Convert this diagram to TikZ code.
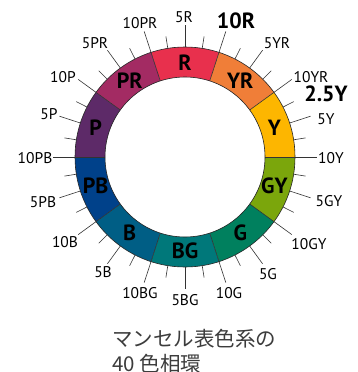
\documentclass[tikz,border=0pt]{standalone}
\usepackage{fontspec}
\setmainfont{PT Sans}
\newfontfamily\jpfont{Noto Sans CJK JP}
\usetikzlibrary{calc}
\definecolor{cR}{HTML}{E8304D}
\definecolor{cYR}{HTML}{F07E38}
\definecolor{cY}{HTML}{FDB600}
\definecolor{cGY}{HTML}{7BA60C}
\definecolor{cG}{HTML}{00805E}
\definecolor{cBG}{HTML}{00787A}
\definecolor{cB}{HTML}{005E85}
\definecolor{cPB}{HTML}{00418A}
\definecolor{cP}{HTML}{5D2A68}
\definecolor{cPR}{HTML}{A32B63}
\definecolor{jptext}{HTML}{3C3C3C}
\tikzset{
  seg/.style={font=\bfseries\fontsize{22}{25}\selectfont, inner sep=0pt},
  hue/.style={font=\fontsize{15.5}{18}\selectfont, inner sep=0pt},
  bighue/.style={font=\bfseries\fontsize{22}{25}\selectfont, inner sep=0pt},
  tick/.style={line width=0.6pt, draw=black!80},
  ring/.style={line width=0.6pt, draw=black!85},
  jp/.style={font=\jpfont\fontsize{20.5}{26}\selectfont, text=jptext, inner sep=0pt, anchor=base west}
}
\begin{document}
\begin{tikzpicture}[x=1pt,y=1pt]
\useasboundingbox (0,0) rectangle (358,-372);
\coordinate (c) at (185,-157);
% coloured segments
\foreach \ang/\col/\lab in {90/cR/R, 54/cYR/YR, 18/cY/Y, -18/cGY/GY, -54/cG/G, -90/cBG/BG, -126/cB/B, -162/cPB/PB, 162/cP/P, 126/cPR/PR} {
  \fill[\col] ($(c)+(\ang-18:110)$) arc[start angle=\ang-18, end angle=\ang+18, radius=110]
     -- ($(c)+(\ang+18:80)$) arc[start angle=\ang+18, end angle=\ang-18, radius=80] -- cycle;
  \node[seg] (s\lab) at ($(c)+(\ang:94)$) {\lab};
}
\draw[ring] (c) circle[radius=110];
\draw[ring] (c) circle[radius=80];
% boundary (10) lines
\foreach \a [count=\i] in {72,36,0,-36,-72,-108,-144,-180,-216,-252} {
  \coordinate (b\i) at ($(c)+(\a:80)$);
  \coordinate (e\i) at ($(c)+(\a:132)$);
  \draw[tick] (b\i) -- (e\i);
}
% hue 5 lines
\foreach \a [count=\i] in {90,54,18,-18,-54,-90,-126,-162,-198,-234} {
  \coordinate (f\i) at ($(c)+(\a:110)$);
  \coordinate (g\i) at ($(c)+(\a:132)$);
  \draw[tick] (f\i) -- (g\i);
}
% short ticks (2.5 and 7.5)
\foreach \k in {0,...,19} {
  \coordinate (t\k) at ($(c)+(9+18*\k:110)$);
  \coordinate (u\k) at ($(c)+(9+18*\k:122)$);
  \draw[tick] (t\k) -- (u\k);
}
% hue labels
\foreach \x/\y/\t [count=\i] in {184/17/5R, 140/23/10PR, 95/43/5PR, 63/77/10P, 49/114/5P, 35/158/10PB, 43/202/5PB, 65/242/10B, 103/272/5B, 140/293/10BG, 185/300/5BG, 229/293/10G, 268/274/5G, 309/244/10GY, 329/201/5GY, 331/158/10Y, 326/119/5Y, 311/77/10YR, 277/43/5YR} {
  \node[hue] (l\i) at (\x,-\y) {\t};
}
\node[bighue] (l10R) at (236,-21) {10R};
\node[bighue] (l25Y) at (326,-94) {2.5Y};
% caption
\node[jp] (cap1) at (112,-346) {マンセル表色系の};
\node[jp] (cap2) at (112,-371) {40 色相環};
\end{tikzpicture}
\end{document}
